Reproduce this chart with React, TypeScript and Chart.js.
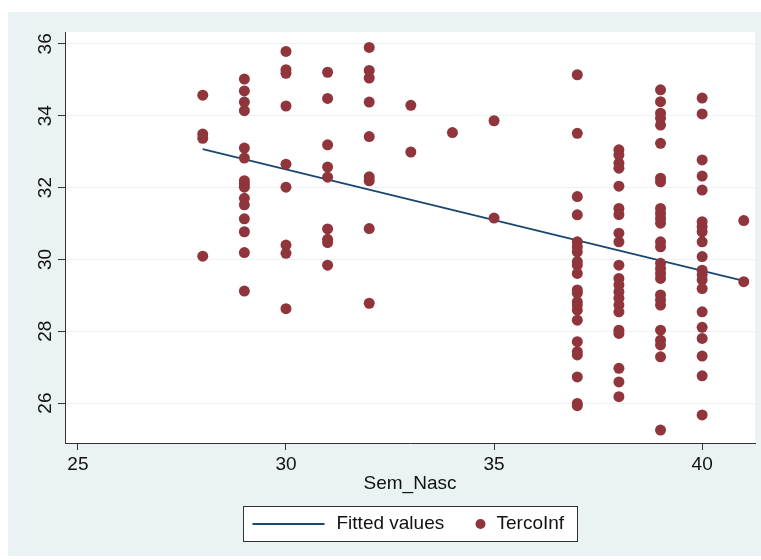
import React, { useEffect, useRef } from "react";
import { Chart, registerables } from "chart.js";

Chart.register(...registerables);

const FONT = '"Liberation Sans", Arial, Helvetica, sans-serif';

// TercoInf values per gestational week (Sem_Nasc)
const w28 = [34.57, 33.49, 33.37, 30.09];
const w29 = [35.02, 34.69, 34.38, 34.14, 33.1, 32.82, 32.19, 32.1, 32.01, 31.7, 31.52, 31.13, 30.77, 30.19, 29.12];
const w30 = [35.79, 35.28, 35.18, 34.27, 32.65, 32.01, 30.4, 30.17, 28.63];
const w31 = [35.21, 34.48, 33.19, 32.57, 32.29, 30.85, 30.56, 30.47, 29.84];
const w32 = [35.9, 35.26, 35.05, 34.38, 33.42, 32.3, 32.19, 30.86, 28.78];
const w33 = [34.29, 32.99];
const w34 = [33.53];
const w35 = [33.86, 31.15];
const w37 = [35.14, 33.51, 31.75, 31.24, 30.49, 30.35, 30.21, 29.94, 29.84, 29.61, 29.15, 29.06, 28.82, 28.73, 28.59, 28.31, 27.71, 27.43, 27.34, 26.73, 25.99, 25.93];
const w38 = [33.05, 32.91, 32.68, 32.54, 32.04, 31.42, 31.25, 30.73, 30.49, 29.84, 29.47, 29.29, 29.1, 28.92, 28.73, 28.54, 28.03, 27.94, 26.97, 26.59, 26.18];
const w39 = [34.72, 34.39, 34.07, 33.93, 33.74, 33.23, 32.26, 32.16, 31.42, 31.28, 31.14, 31.01, 30.49, 30.35, 29.89, 29.75, 29.61, 29.47, 29.01, 28.87, 28.73, 28.03, 27.75, 27.62, 27.29, 25.25];
const w40 = [34.49, 34.05, 32.77, 32.32, 31.93, 31.05, 30.91, 30.77, 30.49, 30.08, 29.7, 29.57, 29.43, 29.19, 28.54, 28.11, 27.8, 27.31, 26.76, 25.67];
const w41 = [31.08, 29.38];

const weeks = [28, 29, 30, 31, 32, 33, 34, 35, 37, 38, 39, 40, 41];
const weekValues = [w28, w29, w30, w31, w32, w33, w34, w35, w37, w38, w39, w40, w41];

// Fitted values (linear fit) endpoints
const fittedX = [28, 41];
const fittedY = [33.07, 29.4];

const xTicks = [25, 30, 35, 40];
const yTicks = [26, 28, 30, 32, 34, 36];

const legendLabels = ["Fitted values", "TercoInf"];

const LINE_COLOR = "#1a476f";
const DOT_COLOR = "#90353b";
const BG = "#eaf2f3";

const stataPlugin = {
  id: "stataLook",
  beforeDraw(chart: any) {
    const { ctx, chartArea: a } = chart;
    ctx.save();
    ctx.fillStyle = "#ffffff";
    ctx.fillRect(0, 0, chart.width, chart.height);
    ctx.fillStyle = BG;
    ctx.fillRect(8, 12, chart.width - 8, 544);
    ctx.fillStyle = "#ffffff";
    ctx.fillRect(a.left, a.top, a.right - a.left, a.bottom - a.top);
    ctx.restore();
  },
  afterDraw(chart: any) {
    const { ctx, chartArea: a } = chart;
    const cx = (a.left + a.right) / 2;
    const bw = 334;
    const bh = 35;
    const bx = Math.round(cx - bw / 2) + 0.5;
    const by = 506.5;
    const cy = by + bh / 2;
    ctx.save();
    ctx.fillStyle = "#ffffff";
    ctx.fillRect(bx, by, bw, bh);
    ctx.strokeStyle = "#333333";
    ctx.lineWidth = 1;
    ctx.strokeRect(bx, by, bw, bh);
    // line sample
    ctx.strokeStyle = LINE_COLOR;
    ctx.lineWidth = 2;
    ctx.beginPath();
    ctx.moveTo(bx + 9, cy);
    ctx.lineTo(bx + 81, cy);
    ctx.stroke();
    ctx.font = `19px ${FONT}`;
    ctx.fillStyle = "#111111";
    ctx.textBaseline = "middle";
    ctx.textAlign = "left";
    ctx.fillText(legendLabels[0], bx + 93, cy);
    // dot sample
    ctx.fillStyle = DOT_COLOR;
    ctx.beginPath();
    ctx.arc(bx + 237, cy, 5, 0, Math.PI * 2);
    ctx.fill();
    ctx.fillStyle = "#111111";
    ctx.fillText(legendLabels[1], bx + 253, cy);
    ctx.restore();
  },
};

export default function App() {
  const ref = useRef<HTMLCanvasElement>(null);

  useEffect(() => {
    if (!ref.current) return;
    const points: { x: number; y: number }[] = [];
    weeks.forEach((w, i) => {
      weekValues[i].forEach((v) => points.push({ x: w, y: v }));
    });
    const fitted = fittedX.map((x, i) => ({ x, y: fittedY[i] }));

    const chart = new Chart(ref.current, {
      type: "scatter",
      data: {
        datasets: [
          {
            type: "line",
            label: legendLabels[0],
            data: fitted,
            borderColor: LINE_COLOR,
            borderWidth: 1.8,
            pointRadius: 0,
            fill: false,
            order: 1,
          } as any,
          {
            label: legendLabels[1],
            data: points,
            backgroundColor: DOT_COLOR,
            borderColor: DOT_COLOR,
            borderWidth: 0,
            pointRadius: 5.5,
            order: 0,
          },
        ],
      },
      options: {
        responsive: false,
        animation: false,
        devicePixelRatio: 1,
        layout: { padding: { top: 32, left: 0, right: 6, bottom: 65 } },
        plugins: { legend: { display: false }, tooltip: { enabled: false } },
        scales: {
          x: {
            type: "linear",
            min: 24.69,
            max: 41.27,
            afterBuildTicks: (s: any) => {
              s.ticks = xTicks.map((v) => ({ value: v }));
            },
            afterFit: (s: any) => {
              s.height = 52;
            },
            grid: {
              drawOnChartArea: false,
              drawTicks: true,
              tickLength: 7,
              tickColor: "#333333",
              tickWidth: 1,
            },
            border: { display: true, color: "#333333", width: 1 },
            ticks: {
              color: "#111111",
              font: { family: FONT, size: 19 },
              padding: 3,
              autoSkip: false,
              maxRotation: 0,
              callback: (v: any) => String(v),
            },
            title: {
              display: true,
              text: "Sem_Nasc",
              color: "#111111",
              font: { family: FONT, size: 19 },
              padding: 0,
            },
          },
          y: {
            type: "linear",
            min: 24.89,
            max: 36.33,
            afterBuildTicks: (s: any) => {
              s.ticks = yTicks.map((v) => ({ value: v }));
            },
            afterFit: (s: any) => {
              s.width = 65;
            },
            grid: {
              color: BG,
              lineWidth: 1,
              drawTicks: true,
              tickLength: 7,
              tickColor: "#333333",
              tickWidth: 1,
            },
            border: { display: true, color: "#333333", width: 1 },
            ticks: {
              color: "#111111",
              font: { family: FONT, size: 19 },
              padding: 2,
              minRotation: 90,
              maxRotation: 90,
              crossAlign: "center",
              autoSkip: false,
              callback: (v: any) => String(v),
            },
          },
        },
      },
      plugins: [stataPlugin],
    } as any);
    return () => chart.destroy();
  }, []);

  return (
    <div style={{ position: "fixed", left: 0, top: 0, width: 761, height: 560, background: "#fff" }}>
      <canvas ref={ref} width={761} height={560} style={{ display: "block", width: 761, height: 560 }} />
    </div>
  );
}
